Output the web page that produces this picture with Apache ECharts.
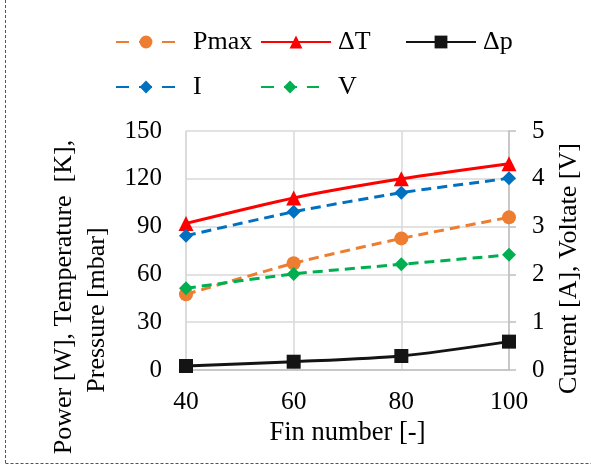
<!DOCTYPE html>
<html>
<head>
<meta charset="utf-8">
<script src="https://cdn.jsdelivr.net/npm/echarts@6/dist/echarts.min.js"></script>
<style>
  html, body { margin: 0; padding: 0; background: #fff; }
  #main { width: 591px; height: 468px; }
</style>
</head>
<body>
<div id="main"></div>
<script>
// fin number on the x axis
const fins = [40, 60, 80, 100];
// left axis: power [W], temperature [K], pressure [mbar]
const pmax = [47.5, 67, 82.6, 95.8];
const deltaT = [92, 108, 120, 129.5];
const deltaP = [2.5, 5.2, 8.8, 17.8];
// right axis: current [A], voltage [V]
const current = [2.81, 3.31, 3.71, 4.01];
const voltage = [1.71, 2.01, 2.21, 2.41];

const FONT = 'Liberation Serif';
const pairs = arr => fins.map((f, i) => [f, arr[i]]);

const chart = echarts.init(document.getElementById('main'));

function legendAt(name, left, top, w, gap, dashed) {
  const lg = {
    data: [name],
    left: left,
    top: top,
    itemWidth: w,
    itemHeight: 16,
    selectedMode: false,
    textStyle: {
      fontFamily: FONT,
      fontSize: 26,
      color: '#000',
      padding: [0, 0, 0, gap]
    }
  };
  if (dashed) lg.lineStyle = { type: [13, 10] };
  return lg;
}

const option = {
  animation: false,
  backgroundColor: '#fff',
  textStyle: { fontFamily: FONT },
  legend: [
    legendAt('Pmax', 110, 24, 60, 12, true),
    legendAt('ΔT', 255, 24, 70, 2, false),
    legendAt('Δp', 400, 24, 70, 2, false),
    legendAt('I', 110, 69, 60, 12, true),
    legendAt('V', 255, 69, 58, 14, true)
  ],
  grid: { left: 186, right: 82, top: 131, bottom: 98 },
  xAxis: {
    type: 'value',
    min: 40,
    max: 100,
    interval: 20,
    name: 'Fin number [-]',
    nameLocation: 'middle',
    nameGap: 49,
    nameTextStyle: { fontFamily: FONT, fontSize: 26.5, color: '#000' },
    axisLine: { lineStyle: { color: '#bfbfbf', width: 1.5 } },
    axisTick: { show: false },
    axisLabel: { fontFamily: FONT, fontSize: 25.5, color: '#000', margin: 19 },
    splitLine: { show: true, lineStyle: { color: '#d9d9d9', width: 1.5 } }
  },
  yAxis: [
    {
      type: 'value',
      min: 0,
      max: 150,
      interval: 30,
      name: 'Power [W], Temperature  [K],\nPressure [mbar]    ',
      nameLocation: 'middle',
      nameRotate: 90,
      nameGap: 69,
      nameTextStyle: {
        fontFamily: FONT,
        fontSize: 26,
        lineHeight: 33,
        color: '#000',
        align: 'center',
        padding: [0, 93, 0, 0]
      },
      axisLine: { show: true, lineStyle: { color: '#d9d9d9', width: 1.5 } },
      axisTick: { show: false },
      axisLabel: { fontFamily: FONT, fontSize: 25, color: '#000', margin: 24 },
      splitLine: { show: true, lineStyle: { color: '#d9d9d9', width: 1.5 } }
    },
    {
      type: 'value',
      min: 0,
      max: 5,
      interval: 1,
      name: 'Current [A], Voltate [V]',
      nameLocation: 'middle',
      nameRotate: 90,
      nameGap: 47,
      nameTextStyle: {
        fontFamily: FONT,
        fontSize: 26,
        color: '#000',
        padding: [0, 36, 0, 0]
      },
      axisLine: { show: true, lineStyle: { color: '#bfbfbf', width: 1.5 } },
      axisTick: { show: true, length: 7, lineStyle: { color: '#bfbfbf', width: 1.5 } },
      axisLabel: { fontFamily: FONT, fontSize: 25, color: '#000', margin: 23 },
      splitLine: { show: false }
    }
  ],
  series: [
    {
      name: 'Pmax', type: 'line', yAxisIndex: 0, data: pairs(pmax),
      smooth: 0.2, symbol: 'circle', symbolSize: 14,
      itemStyle: { color: '#ED7D31' },
      lineStyle: { color: '#ED7D31', width: 3, type: [10, 6] }
    },
    {
      name: 'ΔT', type: 'line', yAxisIndex: 0, data: pairs(deltaT),
      smooth: 0.25, symbol: 'triangle', symbolSize: 15,
      itemStyle: { color: '#FF0000' },
      lineStyle: { color: '#FF0000', width: 3 }
    },
    {
      name: 'Δp', type: 'line', yAxisIndex: 0, data: pairs(deltaP),
      smooth: 0.25, symbol: 'rect', symbolSize: 14,
      itemStyle: { color: '#141414' },
      lineStyle: { color: '#141414', width: 3 }
    },
    {
      name: 'I', type: 'line', yAxisIndex: 1, data: pairs(current),
      smooth: 0.2, symbol: 'diamond', symbolSize: 14,
      itemStyle: { color: '#0070C0' },
      lineStyle: { color: '#0070C0', width: 3, type: [10, 6] }
    },
    {
      name: 'V', type: 'line', yAxisIndex: 1, data: pairs(voltage),
      smooth: 0.2, symbol: 'diamond', symbolSize: 14,
      itemStyle: { color: '#00B050' },
      lineStyle: { color: '#00B050', width: 3, type: [10, 6] }
    }
  ],
  graphic: [
    {
      type: 'line', silent: true,
      shape: { x1: 5.5, y1: 0, x2: 5.5, y2: 463.5 },
      style: { stroke: '#555', lineWidth: 1, lineDash: [3, 2] }
    },
    {
      type: 'line', silent: true,
      shape: { x1: 5.5, y1: 463.5, x2: 591, y2: 463.5 },
      style: { stroke: '#555', lineWidth: 1, lineDash: [3, 2] }
    }
  ]
};

chart.setOption(option);
</script>
</body>
</html>
